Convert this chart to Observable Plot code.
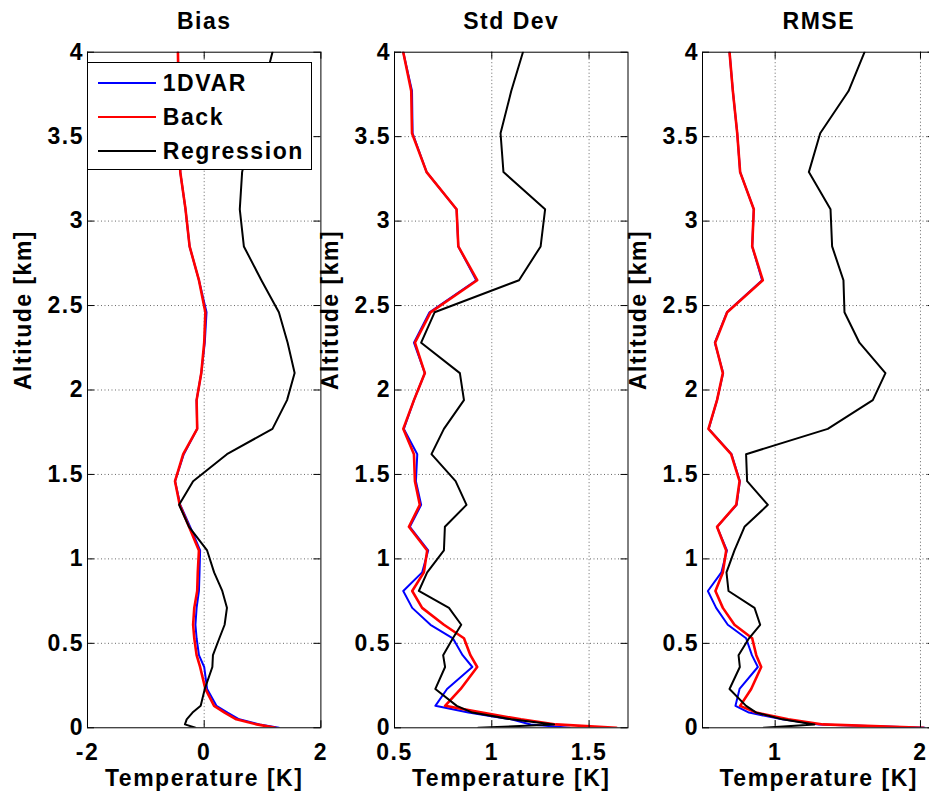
<!DOCTYPE html>
<html>
<head>
<meta charset="utf-8">
<script src="https://cdn.jsdelivr.net/npm/d3@7"></script>
<script src="https://cdn.jsdelivr.net/npm/@observablehq/plot@0.6"></script>
<style>
  body { margin: 0; background: #fff; }
  #chart { position: relative; width: 929px; height: 794px; overflow: hidden; background: #fff;
           font-family: "Liberation Sans", Arial, Helvetica, sans-serif; }
  #chart svg { position: absolute; top: 0; }
  .legend { position: absolute; left: 86.7px; top: 61.7px; width: 225px; height: 108.3px;
            box-sizing: border-box; border: 1px solid #000; background: #fff; z-index: 5; }
  .legend .item { position: absolute; left: 0; height: 30px; width: 100%; }
  .legend .sw { position: absolute; left: 10.6px; width: 57.7px; height: 2px; }
  .legend .lab { position: absolute; left: 75px; font-size: 23px; letter-spacing: 1.6px; font-weight: bold;
                 line-height: 30px; top: -15px; color: #000; white-space: nowrap; }
</style>
</head>
<body>
<div id="chart"></div>
<script>
// ---------------- data ----------------
const altitude = [0.00, 0.02, 0.05, 0.09, 0.13, 0.23, 0.36, 0.43, 0.53, 0.61, 0.71, 0.81, 0.92, 1.05, 1.19,
                  1.32, 1.46, 1.62, 1.77, 1.94, 2.10, 2.28, 2.46, 2.65, 2.85, 3.07, 3.29, 3.52, 3.77, 4.00];

const seriesNames = ["1DVAR", "Back", "Regression"];
const seriesColors = ["#0000ff", "#ff0000", "#000000"];

// Bias
const bias1DVAR = [1.28, 0.95, 0.60, 0.40, 0.21, 0.05, 0.00, -0.09, -0.13, -0.15, -0.13, -0.09, -0.08, -0.07, -0.24,
                   -0.41, -0.50, -0.35, -0.12, -0.13, -0.05, 0.01, 0.04, -0.09, -0.25, -0.32, -0.41, -0.42, -0.44, -0.45];
const biasBack  = [1.22, 0.90, 0.55, 0.35, 0.17, 0.02, -0.07, -0.13, -0.17, -0.19, -0.17, -0.12, -0.11, -0.09, -0.26,
                   -0.42, -0.50, -0.36, -0.12, -0.13, -0.05, 0.00, 0.02, -0.09, -0.25, -0.32, -0.41, -0.42, -0.44, -0.45];
const biasReg   = [-0.15, -0.33, -0.30, -0.20, -0.06, 0.01, 0.14, 0.15, 0.26, 0.35, 0.39, 0.31, 0.17, 0.05, -0.26,
                   -0.43, -0.19, 0.39, 1.17, 1.42, 1.55, 1.43, 1.28, 0.98, 0.68, 0.61, 0.65, 0.80, 1.00, 1.17];

// Std Dev
const std1DVAR = [1.40, 1.20, 1.10, 0.88, 0.71, 0.77, 0.90, 0.85, 0.80, 0.685, 0.591, 0.545, 0.642, 0.673, 0.579,
                  0.637, 0.61, 0.617, 0.548, 0.60, 0.656, 0.60, 0.68, 0.92, 0.828, 0.819, 0.665, 0.593, 0.59, 0.545];
const stdBack  = [1.64, 1.33, 1.15, 0.95, 0.76, 0.84, 0.925, 0.89, 0.857, 0.754, 0.642, 0.591, 0.651, 0.668, 0.574,
                  0.63, 0.605, 0.60, 0.545, 0.60, 0.656, 0.605, 0.685, 0.925, 0.828, 0.819, 0.665, 0.59, 0.586, 0.545];
const stdReg   = [0.93, 1.32, 1.10, 0.90, 0.82, 0.71, 0.76, 0.75, 0.80, 0.843, 0.78, 0.625, 0.668, 0.754, 0.759,
                  0.87, 0.814, 0.69, 0.754, 0.857, 0.836, 0.637, 0.706, 1.14, 1.251, 1.274, 1.06, 1.045, 1.10, 1.16];

// RMSE
const rmse1DVAR = [2.03, 1.30, 1.05, 0.82, 0.727, 0.755, 0.881, 0.84, 0.80, 0.674, 0.594, 0.537, 0.63, 0.668, 0.60,
                   0.735, 0.757, 0.70, 0.543, 0.60, 0.642, 0.585, 0.668, 0.91, 0.842, 0.853, 0.759, 0.739, 0.709, 0.686];
const rmseBack  = [2.02, 1.33, 1.09, 0.87, 0.759, 0.835, 0.904, 0.87, 0.842, 0.72, 0.64, 0.589, 0.64, 0.663, 0.60,
                   0.732, 0.755, 0.697, 0.541, 0.60, 0.64, 0.587, 0.67, 0.915, 0.842, 0.853, 0.759, 0.739, 0.709, 0.686];
const rmseReg   = [0.92, 1.27, 1.05, 0.87, 0.80, 0.686, 0.757, 0.748, 0.82, 0.897, 0.858, 0.679, 0.665, 0.72, 0.789,
                   0.95, 0.807, 0.80, 1.362, 1.672, 1.759, 1.58, 1.477, 1.47, 1.392, 1.381, 1.232, 1.31, 1.505, 1.615];

const panelTitles = ["Bias", "Std Dev", "RMSE"];
const yTicks = [0, 0.5, 1, 1.5, 2, 2.5, 3, 3.5, 4];
const xTicksBias = [-2, 0, 2];
const xTicksStd = [0.5, 1, 1.5];
const xTicksRmse = [1, 2];
const xLabel = "Temperature [K]";
const yLabel = "Altitude [km]";

// ---------------- drawing ----------------
const FONT = '"Liberation Sans", Arial, Helvetica, sans-serif';
const container = document.getElementById("chart");

function panel({title, domain, xticks, gridx, values, fw, left}) {
  const ml = 80, mr = 10, mt = 51.7, mb = 66.7;
  const H = 794;
  const fh = H - mt - mb;
  const txt = {fontSize: 23, fontWeight: "bold", fill: "black", fontFamily: FONT};
  const widths = [2, 2.6, 2];
  const order = [0, 1, 2];
  const chart = Plot.plot({
    width: ml + fw + mr,
    height: H,
    marginLeft: ml, marginRight: mr, marginTop: mt, marginBottom: mb,
    style: {background: "transparent", overflow: "visible", maxWidth: "none", fontFamily: FONT, letterSpacing: "1.5px"},
    x: {domain, label: null},
    y: {domain: [0, 4], label: null},
    marks: [
      Plot.gridX(gridx, {stroke: "#666", strokeOpacity: 1, strokeWidth: 1, strokeDasharray: "1,2.5"}),
      Plot.gridY(yTicks.slice(1, -1), {stroke: "#666", strokeOpacity: 1, strokeWidth: 1, strokeDasharray: "1,2.5"}),
      ...order.map(k => Plot.line(values[k], {
        x: d => d, y: (d, i) => altitude[i],
        stroke: seriesColors[k], strokeWidth: widths[k], clip: true
      })),
      Plot.ruleX(xticks, {x: d => d, insetBottom: fh - 7, stroke: "black"}),
      Plot.ruleX(xticks, {x: d => d, insetTop: fh - 7, stroke: "black"}),
      Plot.ruleY(yTicks, {y: d => d, insetRight: fw - 7, stroke: "black"}),
      Plot.ruleY(yTicks, {y: d => d, insetLeft: fw - 7, stroke: "black"}),
      Plot.frame({stroke: "black", strokeWidth: 1}),
      Plot.axisX(xticks, {tickSize: 0, tickPadding: 16, tickFormat: d => String(d), ...txt}),
      Plot.axisY(yTicks, {tickSize: 0, tickPadding: 3.5, tickFormat: d => String(d), ...txt}),
      Plot.text([title], {text: d => d, frameAnchor: "top", dy: -30.7, lineAnchor: "middle", ...txt}),
      Plot.text([xLabel], {text: d => d, frameAnchor: "bottom", dy: 50.7, lineAnchor: "middle", ...txt}),
      Plot.text([yLabel], {text: d => d, frameAnchor: "left", dx: -64, rotate: -90, lineAnchor: "middle", ...txt})
    ]
  });
  chart.style.left = (left - ml) + "px";
  container.appendChild(chart);
}

panel({title: panelTitles[0], domain: [-2, 2], xticks: xTicksBias, gridx: [0],
       values: [bias1DVAR, biasBack, biasReg], fw: 233.4, left: 87.3});
panel({title: panelTitles[1], domain: [0.5, 1.7], xticks: xTicksStd, gridx: [1, 1.5],
       values: [std1DVAR, stdBack, stdReg], fw: 233.5, left: 394});
panel({title: panelTitles[2], domain: [0.5, 2.1], xticks: xTicksRmse, gridx: [1, 2],
       values: [rmse1DVAR, rmseBack, rmseReg], fw: 232.5, left: 701.7});

// legend (over the Bias panel)
const legend = document.createElement("div");
legend.className = "legend";
const rowsY = [20, 54.3, 88];
seriesNames.forEach((name, k) => {
  const item = document.createElement("div");
  item.className = "item";
  item.style.top = rowsY[k] + "px";
  const sw = document.createElement("div");
  sw.className = "sw";
  sw.style.background = seriesColors[k];
  sw.style.top = "-1px";
  const lab = document.createElement("div");
  lab.className = "lab";
  lab.textContent = name;
  item.appendChild(sw);
  item.appendChild(lab);
  legend.appendChild(item);
});
container.appendChild(legend);
</script>
</body>
</html>
